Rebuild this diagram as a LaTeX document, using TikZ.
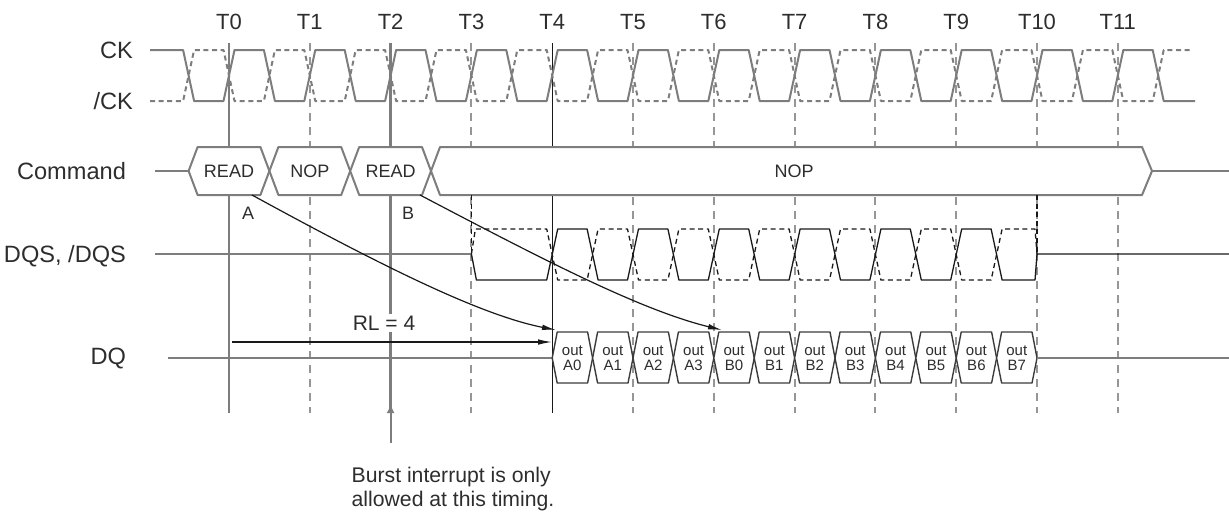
\documentclass[tikz,border=0pt]{standalone}
\usepackage{fontspec}
\setmainfont{Liberation Sans}
\usetikzlibrary{arrows.meta}
\definecolor{wavegray}{RGB}{125,125,125}
\definecolor{gridgray}{RGB}{150,150,150}
\definecolor{inkblack}{RGB}{25,25,25}
\definecolor{textgray}{RGB}{45,45,45}

% x position of clock edge Tn, in px
\newcommand{\tx}[1]{229+80.8*(#1)}

\begin{document}
\begin{tikzpicture}[
    x=0.5pt, y=-0.5pt,
    sig/.style={anchor=east, font=\fontsize{11.8}{14}\selectfont, text=textgray},
    tlbl/.style={font=\fontsize{11}{13}\selectfont, text=textgray},
    wave/.style={line width=1pt, color=wavegray, line join=round},
    wavedash/.style={wave, dash pattern=on 2.5pt off 1.8pt},
    strobe/.style={line width=0.65pt, color=inkblack, line join=round},
    strobedash/.style={strobe, dash pattern=on 2.5pt off 1.8pt},
    gridsolid/.style={line width=1.2pt, color=wavegray},
    griddash/.style={line width=1pt, color=gridgray, dash pattern=on 4pt off 3pt},
    cmdcell/.style={line width=1pt, color=wavegray, fill=white, line join=round},
    cmdtext/.style={font=\fontsize{9}{11}\selectfont, text=textgray},
    dqcell/.style={line width=0.7pt, color=inkblack!85, fill=white, line join=round},
    dqtext/.style={font=\fontsize{7.5}{7.6}\selectfont, align=center, text=textgray, inner sep=0pt},
    arr/.style={-{Latex[length=7pt, width=2.8pt]}, line width=0.6pt, color=inkblack},
    uparr/.style={-{Latex[length=4.5pt, width=4pt]}, line width=1pt, color=wavegray},
    note/.style={font=\fontsize{10.6}{12.5}\selectfont, align=left, text=textgray}
]
\useasboundingbox (0,0) rectangle (1229,516);

% --- clock labels and grid ---
\foreach \k in {0,...,11}
    \node[tlbl] (t\k) at ({\tx{\k}},22) {T\k};
\foreach \k in {1,3,5,6,7,8,9,10,11}
    \draw[griddash] ({\tx{\k}},43) -- ({\tx{\k}},413);
\draw[gridsolid] ({\tx{0}},43) -- ({\tx{0}},413);
\draw[gridsolid] ({\tx{2}},43) -- ({\tx{2}},413);
\draw[line width=0.7pt, color=inkblack] ({\tx{4}},43) -- ({\tx{4}},413);

% --- signal names ---
\node[sig] (ck)   at (140,50)  {CK};
\node[sig] (ckn)  at (140,101) {/CK};
\node[sig] (cmd)  at (133,171) {Command};
\node[sig] (dqs)  at (133,256) {DQS, /DQS};
\node[sig] (dq)   at (133,358) {DQ};

% --- CK and /CK ---
\draw[wave] (150,50) \foreach \k in {0,...,11} {
    -- ({\tx{\k-0.5}-5.5},50) -- ({\tx{\k-0.5}+5.5},101)
    -- ({\tx{\k}-5.5},101) -- ({\tx{\k}+5.5},50) }
    -- ({\tx{11.5}-5.5},50) -- ({\tx{11.5}+5.5},101) -- (1195,101);
\draw[wavedash] (150,101) \foreach \k in {0,...,11} {
    -- ({\tx{\k-0.5}-5.5},101) -- ({\tx{\k-0.5}+5.5},50)
    -- ({\tx{\k}-5.5},50) -- ({\tx{\k}+5.5},101) }
    -- ({\tx{11.5}-5.5},101) -- ({\tx{11.5}+5.5},50) -- (1192,50);

% --- command bus ---
\draw[wave] (155,171) -- ({\tx{-0.5}},171);
\foreach \k/\cmd/\nm in {0/READ/cmdA, 1/NOP/cmdN, 2/READ/cmdB} {
    \draw[cmdcell] ({\tx{\k-0.5}},171) -- ({\tx{\k-0.5}+9},147) -- ({\tx{\k+0.5}-9},147)
        -- ({\tx{\k+0.5}},171) -- ({\tx{\k+0.5}-9},195) -- ({\tx{\k-0.5}+9},195) -- cycle;
    \node[cmdtext] (\nm) at ({\tx{\k}},171) {\cmd};
}
\draw[cmdcell] ({\tx{2.5}},171) -- ({\tx{2.5}+9},147) -- (1142,147) -- (1152,171)
    -- (1142,195) -- ({\tx{2.5}+9},195) -- cycle;
\node[cmdtext] (cmdNop) at (794,171) {NOP};
\draw[wave] (1152,171) -- (1229,171);
\node[cmdtext] (lblA) at (248,213) {A};
\node[cmdtext] (lblB) at (408,213) {B};

% --- DQS and /DQS ---
\draw[wave] (155,254) -- ({\tx{3}},254);
\draw[strobedash] ({\tx{3}},195) -- ({\tx{3}},254);
\draw[strobedash] ({\tx{10}},195) -- ({\tx{10}},254);
\draw[strobe] ({\tx{3}},254) -- ({\tx{3}+5},280) \foreach \k in {4,...,9} {
    -- ({\tx{\k}-5.5},280) -- ({\tx{\k}+5.5},229)
    -- ({\tx{\k+0.5}-5.5},229) -- ({\tx{\k+0.5}+5.5},280) }
    -- ({\tx{10}-2},280) -- ({\tx{10}},254) -- (1229,254);
\draw[strobedash] ({\tx{3}},254) -- ({\tx{3}+4},229) \foreach \k in {4,...,9} {
    -- ({\tx{\k}-5.5},229) -- ({\tx{\k}+5.5},280)
    -- ({\tx{\k+0.5}-5.5},280) -- ({\tx{\k+0.5}+5.5},229) }
    -- ({\tx{10}-2},229) -- ({\tx{10}},254);

% --- DQ ---
\draw[wave] (168,358) -- ({\tx{4}},358);
\foreach \j/\dat in {0/A0,1/A1,2/A2,3/A3,4/B0,5/B1,6/B2,7/B3,8/B4,9/B5,10/B6,11/B7} {
    \draw[dqcell] ({\tx{4+\j/2}},358) -- ({\tx{4+\j/2}+5},332) -- ({\tx{4.5+\j/2}-5},332)
        -- ({\tx{4.5+\j/2}},358) -- ({\tx{4.5+\j/2}-5},383) -- ({\tx{4+\j/2}+5},383) -- cycle;
    \node[dqtext] (dq\dat) at ({\tx{4.25+\j/2}},358) {out\\\dat};
}
\draw[wave] ({\tx{10}},358) -- (1229,358);

% --- read latency ---
\coordinate (rdA)  at (252,195);
\coordinate (rdB)  at (420,195);
\coordinate (outA) at (556,330);
\coordinate (outB) at (722,330);
\draw[arr] (rdA) .. controls (380,265) and (480,315) .. (outA);
\draw[arr] (rdB) .. controls (540,258) and (640,310) .. (outB);
\node[font=\fontsize{10.5}{12}\selectfont, text=textgray, fill=white, inner sep=1pt] (rl) at (384,323) {RL = 4};
\coordinate (rlFrom) at ({\tx{0}+3},342);
\coordinate (rlTo)   at (552,342);
\draw[arr] (rlFrom) -- (rlTo);

% --- burst interrupt note ---
\node[note] (burst) at (453,489) {Burst interrupt is only\\allowed at this timing.};
\coordinate (burstFoot) at ({\tx{2}},443);
\coordinate (burstTip)  at ({\tx{2}},404);
\draw[uparr] (burstFoot) -- (burstTip);

\end{tikzpicture}
\end{document}
